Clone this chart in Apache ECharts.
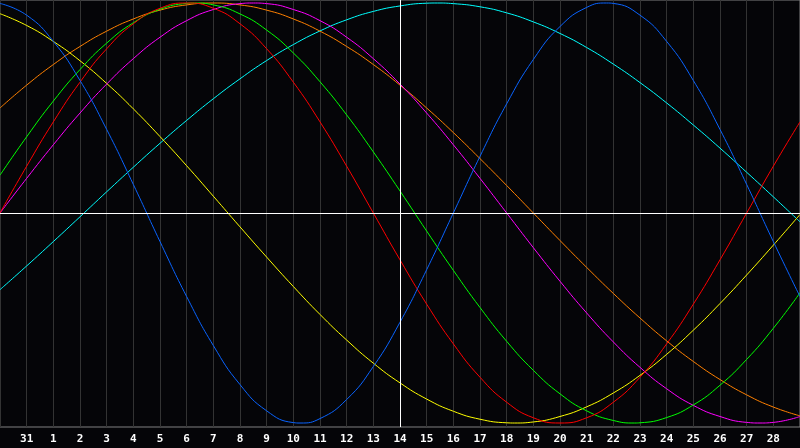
<!DOCTYPE html>
<html>
<head>
<meta charset="utf-8">
<script src="https://cdn.jsdelivr.net/npm/echarts@6/dist/echarts.min.js"></script>
<style>
html,body{margin:0;padding:0;background:#050508;}
#chart{width:800px;height:448px;}
</style>
</head>
<body>
<div id="chart"></div>
<script>
// Day labels (Jan 30 .. Mar 1); first and last are not shown
const dayLabels = ['30','31','1','2','3','4','5','6','7','8','9','10','11','12','13','14','15','16','17','18','19','20','21','22','23','24','25','26','27','28','1'];
const todayIndex = 15;

// Cycle values in percent, one per day
const physical = [99.8,94.2,81.7,63.1,39.8,13.6,-13.6,-39.8,-63.1,-81.7,-94.2,-99.8,-97.9,-88.8,-73.1,-52.0,-27.0,0.0,27.0,52.0,73.1,88.8,97.9,99.8,94.2,81.7,63.1,39.8,13.6,-13.6,-39.8];
const emotional = [0,22.3,43.4,62.3,78.2,90.1,97.5,100,97.5,90.1,78.2,62.3,43.4,22.3,0,-22.3,-43.4,-62.3,-78.2,-90.1,-97.5,-100,-97.5,-90.1,-78.2,-62.3,-43.4,-22.3,0,22.3,43.4];
const intellectual = [18.0,36.3,53.3,68.3,80.9,90.6,97.0,99.8,99.1,94.8,87.1,76.2,62.5,46.7,29.1,10.5,-8.6,-27.3,-45.0,-61.1,-74.9,-86.1,-94.2,-98.8,-99.9,-97.4,-91.4,-82.0,-69.7,-54.9,-38.0];
const intuitive = [0,16.5,32.5,47.6,61.4,73.5,83.7,91.6,96.9,99.7,99.7,96.9,91.6,83.7,73.5,61.4,47.6,32.5,16.5,0,-16.5,-32.5,-47.6,-61.4,-73.5,-83.7,-91.6,-96.9,-99.7,-99.7,-96.9];
const aesthetic = [94.9,89.3,81.7,72.5,61.7,49.6,36.4,22.5,8.0,-6.6,-21.0,-35.0,-48.3,-60.5,-71.5,-80.9,-88.6,-94.4,-98.2,-99.9,-99.5,-96.9,-92.3,-85.7,-77.3,-67.3,-55.8,-43.1,-29.5,-15.3,-0.7];
const awareness = [50.0,60.9,70.7,79.3,86.6,92.4,96.6,99.1,100,99.1,96.6,92.4,86.6,79.3,70.7,60.9,50.0,38.3,25.9,13.1,0,-13.1,-25.9,-38.3,-50.0,-60.9,-70.7,-79.3,-86.6,-92.4,-96.6];
const spiritual = [-36.5,-25.2,-13.6,-1.8,10.1,21.8,33.2,44.1,54.4,63.9,72.6,80.2,86.7,92.0,96.0,98.6,99.9,99.7,98.2,95.3,91.0,85.5,78.8,70.9,62.1,52.4,41.9,30.9,19.4,7.7,-4.2];

// Peaks and troughs that fall between days: [day position, value]
const physicalExtremes = [[11.25,-100],[22.75,100]];
const emotionalExtremes = [];
const intellectualExtremes = [[7.3,100],[23.8,-100]];
const intuitiveExtremes = [[9.5,100],[28.5,-100]];
const aestheticExtremes = [[19.3,-100]];
const awarenessExtremes = [];
const spiritualExtremes = [[16.4,100]];

const seriesDefs = [
  {name:'Spiritual', data: spiritual, ext: spiritualExtremes, color:'#00ffff'},
  {name:'Awareness', data: awareness, ext: awarenessExtremes, color:'#ff8000'},
  {name:'Aesthetic', data: aesthetic, ext: aestheticExtremes, color:'#ffff00'},
  {name:'Intuitive', data: intuitive, ext: intuitiveExtremes, color:'#ff00ff'},
  {name:'Intellectual', data: intellectual, ext: intellectualExtremes, color:'#00ff00'},
  {name:'Emotional', data: emotional, ext: emotionalExtremes, color:'#ff0000'},
  {name:'Physical', data: physical, ext: physicalExtremes, color:'#0a64ff'}
];

function combine(daily, ext) {
  return daily.map((v, i) => [i, v]).concat(ext).sort((a, b) => a[0] - b[0]);
}

const chart = echarts.init(document.getElementById('chart'), null, {renderer:'canvas'});
const series = seriesDefs.map(s => ({
  name: s.name,
  type: 'line',
  data: combine(s.data, s.ext),
  smooth: 0.5,
  symbol: 'none',
  lineStyle: {color: s.color, width: 1},
  itemStyle: {color: s.color},
  silent: true
}));
series.push({
  name: 'ref',
  type: 'line',
  data: [],
  symbol: 'none',
  markLine: {
    silent: true,
    symbol: 'none',
    label: {show: false},
    lineStyle: {color: '#ffffff', width: 1, type: 'solid'},
    data: [{xAxis: todayIndex}, {yAxis: 0}]
  },
  z: 10
});

chart.setOption({
  backgroundColor: '#050508',
  animation: false,
  grid: {left: 0, right: 0, top: 0, bottom: 21, show: true, borderColor: '#808080', borderWidth: 1, backgroundColor: 'transparent'},
  xAxis: {
    type: 'value',
    min: 0,
    max: dayLabels.length - 1,
    interval: 1,
    axisLine: {show: true, lineStyle: {color: '#808080', width: 1}},
    axisTick: {show: false},
    splitLine: {show: true, lineStyle: {color: '#333333', width: 1}},
    axisLabel: {
      showMinLabel: false,
      showMaxLabel: false,
      color: '#ffffff',
      fontFamily: 'DejaVu Sans Mono',
      fontWeight: 'bold',
      fontSize: 11,
      margin: 7,
      formatter: (v) => (v <= 0 || v >= dayLabels.length - 1) ? '' : dayLabels[Math.round(v)]
    }
  },
  yAxis: {
    type: 'value',
    min: -101.9,
    max: 101.43,
    show: false,
    splitLine: {show: false}
  },
  series: series
});
</script>
</body>
</html>
